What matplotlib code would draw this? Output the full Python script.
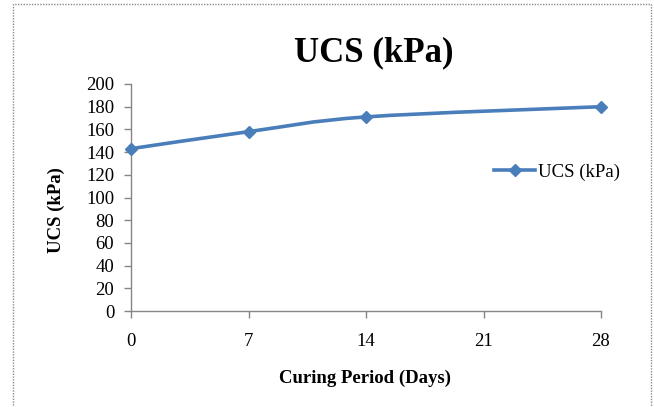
import numpy as np
import matplotlib
matplotlib.use("Agg")
import matplotlib.pyplot as plt
from matplotlib.path import Path
from matplotlib.patches import PathPatch, Rectangle
from matplotlib.lines import Line2D

# data
days = [0, 7, 14, 28]
ucs = [143, 158, 171, 180]
x_ticks = [0, 7, 14, 21, 28]
y_ticks = list(range(0, 201, 20))

title = "UCS (kPa)"
x_label = "Curing Period (Days)"
y_label = "UCS (kPa)"
series_name = "UCS (kPa)"

BLUE = "#4A7EBB"
GRAY = "#868686"
plt.rcParams['font.family'] = ['Liberation Serif', 'DejaVu Serif']


def smooth_path(xs, ys):
    # excel-like smoothed line: cubic bezier through the points (catmull-rom)
    pts = np.column_stack([xs, ys]).astype(float)
    n = len(pts)
    verts = [pts[0]]
    codes = [Path.MOVETO]
    for i in range(n - 1):
        p0 = pts[max(i - 1, 0)]
        p1 = pts[i]
        p2 = pts[i + 1]
        p3 = pts[min(i + 2, n - 1)]
        c1 = p1 + (p2 - p0) / 6.0
        c2 = p2 - (p3 - p1) / 6.0
        verts += [c1, c2, p2]
        codes += [Path.CURVE4] * 3
    return Path(verts, codes)


W, H = 654, 407
fig = plt.figure(figsize=(W / 100, H / 100), dpi=100)

# dotted chart-area border
fig.patches.append(Rectangle((12.5 / W, -0.05), (651 - 12.5) / W, 1.05 - 4 / H,
                             transform=fig.transFigure, fill=False,
                             edgecolor="#8c8c8c", linewidth=1, linestyle=(0, (1, 1))))

ax = fig.add_axes([131 / W, 1 - 311 / H, (601 - 131) / W, (311 - 84) / H])
ax.set_xlim(0, 28)
ax.set_ylim(0, 200)

ax.add_patch(PathPatch(smooth_path(days, ucs), fill=False, edgecolor=BLUE,
                       linewidth=2.6, capstyle='round', joinstyle='round', zorder=3))
ax.plot(days, ucs, linestyle='none', marker='D', markersize=6.5,
        color=BLUE, zorder=4, clip_on=False)

ax.set_xticks(x_ticks)
ax.set_yticks(y_ticks)
ax.tick_params(axis='both', direction='out', length=5, width=1, color=GRAY,
               labelsize=13.5)
ax.tick_params(axis='x', pad=11)
ax.tick_params(axis='y', pad=7)
for s in ['top', 'right']:
    ax.spines[s].set_visible(False)
for s in ['left', 'bottom']:
    ax.spines[s].set_color(GRAY)
    ax.spines[s].set_linewidth(1)

fig.text(374 / W, 1 - 53 / H, title, fontsize=25, fontweight='bold',
         ha='center', va='center')
fig.text(56 / W, 1 - 210 / H, y_label, fontsize=13.5, fontweight='bold',
         rotation=90, ha='center', va='center')
fig.text(365 / W, 1 - 378 / H, x_label, fontsize=13.5, fontweight='bold',
         ha='center', va='center')

handle = Line2D([], [], color=BLUE, linewidth=2.6, marker='D', markersize=6.5)
fig.legend([handle], [series_name], loc='center left',
           bbox_to_anchor=(494 / W, 1 - 172 / H), frameon=False, fontsize=13.5,
           handlelength=2.2, handletextpad=0.15, borderpad=0, borderaxespad=0)

fig.savefig("out.png", dpi=100)
